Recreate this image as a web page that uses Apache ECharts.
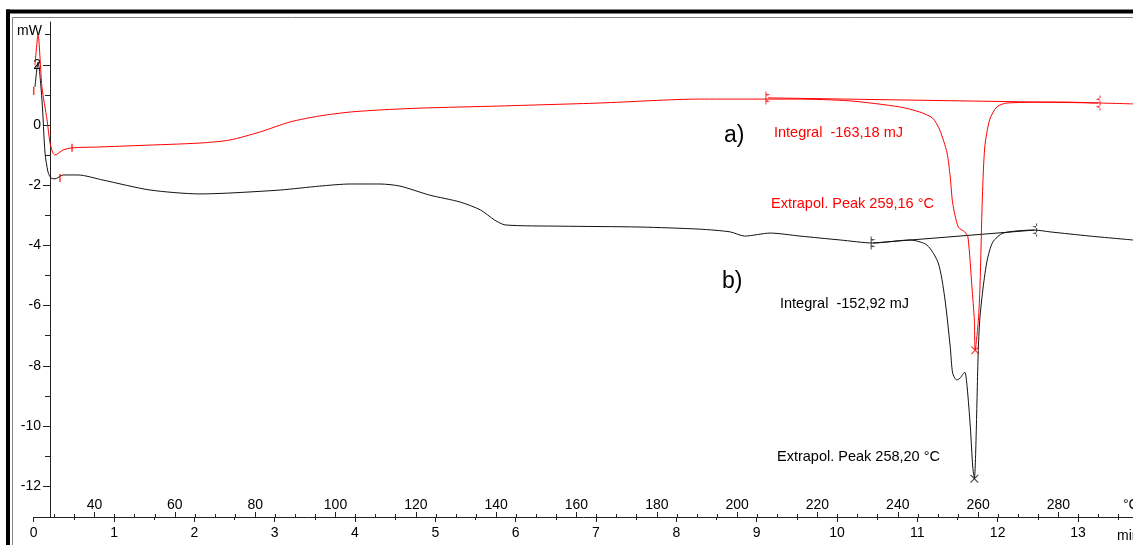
<!DOCTYPE html>
<html>
<head>
<meta charset="utf-8">
<script src="https://cdn.jsdelivr.net/npm/echarts@6/dist/echarts.min.js"></script>
<style>
html,body{margin:0;padding:0;background:#fff;}
#chart{width:1133px;height:545px;}
</style>
</head>
<body>
<div id="chart"></div>
<script>
// ---- data (time in min, heat flow in mW) ----
const curveA_t = [0.016,0.054,0.103,0.166,0.203,0.240,0.265,0.365,0.477,0.825,1.323,2.07,2.44,2.82,3.19,3.56,3.94,4.32,4.81,5.80,7.05,8.29,9.50,10.16,10.78,11.03,11.19,11.28,11.37,11.41,11.44,11.51,11.59,11.63,11.68,11.71,11.72,11.76,11.78,11.81,11.84,11.90,11.99,12.12,12.80,13.27,13.685];
const curveA_mW = [1.99,2.99,1.26,0.17,-0.60,-0.93,-1.00,-0.83,-0.76,-0.73,-0.68,-0.60,-0.50,-0.23,0.10,0.30,0.43,0.50,0.56,0.63,0.73,0.86,0.86,0.80,0.60,0.43,0.23,-0.17,-0.93,-1.73,-2.59,-3.39,-3.55,-3.72,-5.38,-6.48,-7.48,-6.48,-5.38,-2.39,-0.73,0.17,0.60,0.73,0.76,0.73,0.70];

const curveB_t = [0.016,0.054,0.103,0.141,0.178,0.215,0.265,0.365,0.551,0.863,1.448,2.07,2.44,3.07,3.56,3.94,4.31,4.56,4.93,5.31,5.56,5.74,5.87,6.55,7.55,8.29,8.67,8.85,9.17,9.54,10.04,10.45,10.91,11.12,11.26,11.34,11.41,11.44,11.49,11.53,11.59,11.62,11.66,11.69,11.71,11.76,11.78,11.82,11.87,11.94,12.07,12.46,12.65,13.15,13.685];
const curveB_mW = [1.26,2.09,0.83,-0.93,-1.56,-1.76,-1.79,-1.66,-1.66,-1.83,-2.16,-2.29,-2.26,-2.16,-2.03,-1.96,-1.96,-2.03,-2.33,-2.56,-2.82,-3.16,-3.32,-3.36,-3.39,-3.46,-3.55,-3.69,-3.59,-3.69,-3.82,-3.92,-3.82,-3.99,-4.58,-5.71,-7.38,-8.24,-8.47,-8.41,-8.21,-8.70,-10.03,-11.36,-11.73,-7.38,-6.38,-5.38,-4.49,-3.89,-3.59,-3.49,-3.55,-3.69,-3.82];

// integration baselines (start / end limits)
const baselineA = [[9.14, 0.90], [13.25, 0.73]];
const baselineB = [[10.45, -3.92], [12.46, -3.49]];
// extrapolated peak points
const peakA = [[11.72, -7.48]];
const peakB = [[11.71, -11.75]];
// small evaluation-limit marks
const smallMarksA = [[0.0, 1.13], [0.477, -0.76], [0.327, -1.76]];

// axis tick values / labels
const minuteTicks = [0,1,2,3,4,5,6,7,8,9,10,11,12,13];
const minuteMinor = [0.5,1.5,2.5,3.5,4.5,5.5,6.5,7.5,8.5,9.5,10.5,11.5,12.5,13.5];
const tempTicks = [40,60,80,100,120,140,160,180,200,220,240,260,280];
const tempMinor = [30,35,45,50,55,65,70,75,85,90,95,105,110,115,125,130,135,145,150,155,165,170,175,185,190,195,205,210,215,225,230,235,245,250,255,265,270,275,285,290,295];
const mWTicks = [-12,-10,-8,-6,-4,-2,0,2];
const mWMinor = [-11,-9,-7,-5,-3,-1,1,3];

// axis extents
const tMin = 0, tMax = 13.685;
const T0 = 24.86, heatRate = 20; // °C at t=0, K/min
const yMin = -13.02, yMax = 3.42;

const zip = (a, b) => a.map((v, i) => [v, b[i]]);
const FONT = "'Liberation Sans', Arial, sans-serif";
const AX = '#222';

const vMarkR = 'path://M4,0 L5,0 L5,20 L4,20 Z M4,3 L9,5 L4,7 Z M4,13 L9,15 L4,17 Z';
const vMarkL = 'path://M4,0 L5,0 L5,20 L4,20 Z M5,3 L0,5 L5,7 Z M5,13 L0,15 L5,17 Z';
const cross = 'path://M0,0 L1,0 L10,9 L10,10 L9,10 L0,1 Z M9,0 L10,0 L10,1 L1,10 L0,10 L0,9 Z';

const chart = echarts.init(document.getElementById('chart'), null, {renderer: 'canvas'});

const baseX = {
  type: 'value', position: 'bottom', splitLine: {show: false},
  axisLine: {show: false, onZero: false}
};

const option = {
  animation: false,
  backgroundColor: '#fff',
  grid: {left: 33.7, right: 0, top: 22, bottom: 28, containLabel: false},
  xAxis: [
    Object.assign({}, baseX, {
      min: tMin, max: tMax,
      axisLine: {show: true, onZero: false, lineStyle: {color: AX, width: 1}},
      axisTick: {show: true, length: 5, customValues: minuteTicks, lineStyle: {color: AX}},
      axisLabel: {customValues: minuteTicks, margin: 9, fontSize: 14, color: '#000', fontFamily: FONT}
    }),
    Object.assign({}, baseX, {
      min: tMin, max: tMax,
      axisTick: {show: true, length: 3, customValues: minuteMinor, lineStyle: {color: AX}},
      axisLabel: {show: false}
    }),
    Object.assign({}, baseX, {
      min: T0 + heatRate * tMin, max: T0 + heatRate * tMax,
      axisTick: {show: true, inside: true, length: 5, customValues: tempTicks, lineStyle: {color: AX}},
      axisLabel: {inside: true, customValues: tempTicks, margin: 5, fontSize: 14, color: '#000', fontFamily: FONT}
    }),
    Object.assign({}, baseX, {
      min: T0 + heatRate * tMin, max: T0 + heatRate * tMax,
      axisTick: {show: true, inside: true, length: 3, customValues: tempMinor, lineStyle: {color: AX}},
      axisLabel: {show: false}
    })
  ],
  yAxis: [
    {
      type: 'value', position: 'left', offset: -16.3, min: yMin, max: yMax,
      splitLine: {show: false},
      axisLine: {show: true, onZero: false, lineStyle: {color: AX, width: 1}},
      axisTick: {show: true, length: 7, customValues: mWTicks, lineStyle: {color: AX}},
      axisLabel: {customValues: mWTicks, margin: 9, fontSize: 14, color: '#000', fontFamily: FONT}
    },
    {
      type: 'value', position: 'left', offset: -16.3, min: yMin, max: yMax,
      splitLine: {show: false},
      axisLine: {show: false, onZero: false},
      axisTick: {show: true, length: 5, customValues: mWMinor, lineStyle: {color: AX}},
      axisLabel: {show: false}
    }
  ],
  series: [
    {
      name: 'a', type: 'line', data: zip(curveA_t, curveA_mW), showSymbol: false, clip: false,
      smooth: 0.25,
      lineStyle: {color: '#ff0000', width: 1}, z: 3
    },
    {
      name: 'a baseline', type: 'line', data: baselineA, showSymbol: false,
      lineStyle: {color: '#ff0000', width: 1}, z: 3
    },
    {
      name: 'b', type: 'line', data: zip(curveB_t, curveB_mW), showSymbol: false, clip: false,
      smooth: 0.25,
      lineStyle: {color: '#111', width: 1}, z: 2
    },
    {
      name: 'b baseline', type: 'line', data: baselineB, showSymbol: false,
      lineStyle: {color: '#111', width: 1}, z: 2
    },
    {
      type: 'scatter', data: [baselineA[0]], symbol: vMarkR, symbolSize: [5, 13], symbolKeepAspect: false,
      itemStyle: {color: '#ff0000'}, z: 4
    },
    {
      type: 'scatter', data: [baselineA[1]], symbol: vMarkL, symbolSize: [5, 15], symbolKeepAspect: false,
      itemStyle: {color: '#ff0000'}, z: 4
    },
    {
      type: 'scatter', data: [baselineB[0]], symbol: vMarkR, symbolSize: [5, 13], symbolKeepAspect: false,
      itemStyle: {color: '#111'}, z: 4
    },
    {
      type: 'scatter', data: [baselineB[1]], symbol: vMarkL, symbolSize: [5, 13], symbolKeepAspect: false,
      itemStyle: {color: '#111'}, z: 4
    },
    {
      type: 'scatter', data: peakA, symbol: cross, symbolSize: 8, itemStyle: {color: '#ff0000'}, z: 5
    },
    {
      type: 'scatter', data: peakB, symbol: cross, symbolSize: 8, itemStyle: {color: '#111'}, z: 5
    },
    {
      type: 'scatter', data: smallMarksA, symbol: 'rect', symbolSize: [1.5, 8], itemStyle: {color: '#ff0000'}, z: 5, clip: false
    }
  ],
  graphic: [
    {type: 'rect', shape: {x: 6, y: 9.5, width: 1127, height: 4}, style: {fill: '#000'}, z: 100},
    {type: 'rect', shape: {x: 6, y: 9.5, width: 4, height: 536}, style: {fill: '#000'}, z: 100},
    {type: 'line', shape: {x1: 12.5, y1: 17.5, x2: 1133, y2: 17.5}, style: {stroke: '#808080', lineWidth: 1}, z: 100},
    {type: 'line', shape: {x1: 12.5, y1: 17.5, x2: 12.5, y2: 545}, style: {stroke: '#808080', lineWidth: 1}, z: 100},
    {type: 'text', z: 100, style: {text: 'mW', x: 42, y: 31, align: 'right', verticalAlign: 'middle', font: '14px ' + FONT, fill: '#000'}},
    {type: 'text', z: 100, style: {text: '°C', x: 1123, y: 505, align: 'left', verticalAlign: 'middle', font: '14px ' + FONT, fill: '#000'}},
    {type: 'text', z: 100, style: {text: 'min', x: 1117, y: 536, align: 'left', verticalAlign: 'middle', font: '14px ' + FONT, fill: '#000'}},
    {type: 'text', z: 100, style: {text: 'a)', x: 724, y: 136, align: 'left', verticalAlign: 'middle', font: '23px ' + FONT, fill: '#000'}},
    {type: 'text', z: 100, style: {text: 'Integral  -163,18 mJ', x: 774, y: 132.5, align: 'left', verticalAlign: 'middle', font: '14.5px ' + FONT, fill: '#ff0000'}},
    {type: 'text', z: 100, style: {text: 'Extrapol. Peak 259,16 °C', x: 771, y: 204, align: 'left', verticalAlign: 'middle', font: '14.5px ' + FONT, fill: '#ff0000'}},
    {type: 'text', z: 100, style: {text: 'b)', x: 722, y: 282, align: 'left', verticalAlign: 'middle', font: '23px ' + FONT, fill: '#000'}},
    {type: 'text', z: 100, style: {text: 'Integral  -152,92 mJ', x: 780, y: 303.5, align: 'left', verticalAlign: 'middle', font: '14.5px ' + FONT, fill: '#000'}},
    {type: 'text', z: 100, style: {text: 'Extrapol. Peak 258,20 °C', x: 777, y: 456.5, align: 'left', verticalAlign: 'middle', font: '14.5px ' + FONT, fill: '#000'}}
  ]
};
chart.setOption(option);
</script>
</body>
</html>
